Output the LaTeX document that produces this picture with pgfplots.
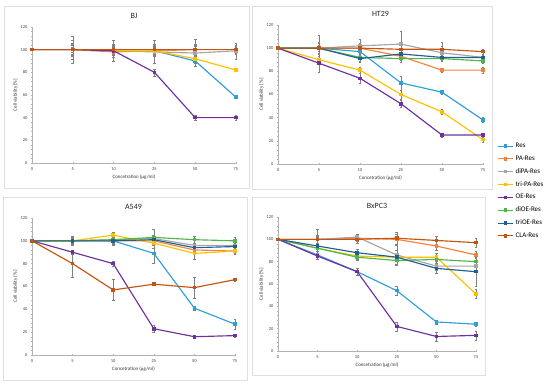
\documentclass[border=0pt]{standalone}
\usepackage{pgfplots}
\pgfplotsset{compat=1.18}
\usepackage{fontspec}
\setmainfont{Carlito}
\definecolor{cRes}{HTML}{2E9FD8}
\definecolor{cPA}{HTML}{F5823A}
\definecolor{cdiPA}{HTML}{A5A5A5}
\definecolor{ctri}{HTML}{FFC000}
\definecolor{cOE}{HTML}{7030A0}
\definecolor{cdiOE}{HTML}{4EB548}
\definecolor{ctriOE}{HTML}{1F5F91}
\definecolor{cCLA}{HTML}{C4540F}
\definecolor{cErr}{HTML}{808080}
\pgfplotsset{
  panel/.style={
    scale only axis,
    xmin=0, xmax=5, ymin=0, ymax=120,
    xtick={0,1,2,3,4,5}, xticklabels={0,5,10,25,50,75},
    ytick={0,20,40,60,80,100,120},
    minor y tick num=4,
    axis x line=bottom, axis y line=left,
    axis line style={gray!60, -, line width=0.5pt},
    tick style={gray!60, line width=0.4pt},
    major tick length=2pt, minor tick length=1.2pt,
    tick align=center,
    tick label style={font=\fontsize{4.5}{5}\selectfont, text=black!75},
    /pgf/number format/assume math mode=true,
    xlabel={Concetration (µg/ml)},
    ylabel={Cell viability [\%]},
    label style={font=\fontsize{5}{6}\selectfont, text=black!80},
    xlabel style={yshift=3pt},
    ylabel style={yshift=-4pt},
    title style={font=\fontsize{8}{9}\selectfont, text=black!85, yshift=-1pt},
    every axis plot/.append style={line width=1.15pt, mark=square*, mark size=1.2pt,
      error bars/y dir=both, error bars/y explicit,
      error bars/error bar style={cErr, line width=0.35pt},
      error bars/error mark options={rotate=90, mark size=1.4pt, cErr, line width=0.35pt}},
    clip=false,
  },
}
\begin{document}
\begin{tikzpicture}[x=1pt,y=1pt]
\path[use as bounding box] (0,0) rectangle (550,385);
% panel frames
\draw[gray!25, line width=0.6pt] (4,197) rectangle (249,379);
\draw[gray!25, line width=0.6pt] (252,196) rectangle (492,379);
\draw[gray!25, line width=0.6pt] (3,5) rectangle (247,188);
\draw[gray!25, line width=0.6pt] (252,10) rectangle (485,188);

% BJ
\begin{axis}[panel, at={(32pt,222pt)}, anchor=south west, width=204pt, height=136pt, title={BJ}]
\addplot[color=cRes, mark options={fill=cRes}] coordinates {(0,100)+-(0,0) (1,100)+-(0,4) (2,100)+-(0,3) (3,99)+-(0,3) (4,90)+-(0,2) (5,58)+-(0,1)};
\addplot[color=cPA, mark options={fill=cPA}] coordinates {(0,100)+-(0,0) (1,100)+-(0,6) (2,98)+-(0,5) (3,99)+-(0,4) (4,100)+-(0,5) (5,100)+-(0,4)};
\addplot[color=cdiPA, mark options={fill=cdiPA}] coordinates {(0,100)+-(0,0) (1,100)+-(0,12) (2,99)+-(0,9) (3,98)+-(0,10) (4,97)+-(0,12) (5,99)+-(0,7)};
\addplot[color=ctri, mark options={fill=ctri}] coordinates {(0,100)+-(0,0) (1,100)+-(0,4) (2,99)+-(0,3) (3,99)+-(0,5) (4,92)+-(0,2) (5,82)+-(0,1)};
\addplot[color=cOE, mark options={fill=cOE}] coordinates {(0,100)+-(0,0) (1,100)+-(0,2) (2,99)+-(0,3) (3,80)+-(0,3) (4,40)+-(0,2) (5,40)+-(0,2)};
\addplot[color=cdiOE, mark options={fill=cdiOE}] coordinates {(0,100)+-(0,0) (1,100)+-(0,8) (2,100)+-(0,5) (3,100)+-(0,5) (4,100)+-(0,4) (5,100)+-(0,3)};
\addplot[color=ctriOE, mark options={fill=ctriOE}] coordinates {(0,100)+-(0,0) (1,100)+-(0,6) (2,100)+-(0,4) (3,100)+-(0,4) (4,100)+-(0,3) (5,100)+-(0,3)};
\addplot[color=cCLA, mark options={fill=cCLA}] coordinates {(0,100)+-(0,0) (1,100)+-(0,5) (2,100)+-(0,3) (3,100)+-(0,3) (4,100)+-(0,3) (5,100)+-(0,2)};
\end{axis}

% HT29
\begin{axis}[panel, at={(278pt,221pt)}, anchor=south west, width=205pt, height=139pt, title={HT29},
  legend style={at={(axis description cs:1.07,0.165)}, anchor=north west, draw=none, fill=none,
    font=\fontsize{7}{8}\selectfont, row sep=2.6pt, inner sep=0pt},
  legend cell align=left,
  legend image code/.code={\draw[#1, line width=1.1pt] (0pt,0pt) -- (15pt,0pt); \draw[#1, mark size=1.2pt] plot coordinates {(7.5pt,0pt)};}]
\addplot[color=cRes, mark options={fill=cRes}] coordinates {(0,100)+-(0,0) (1,100)+-(0,3) (2,97)+-(0,3) (3,70)+-(0,6) (4,62)+-(0,2) (5,38)+-(0,2)};
\addplot[color=cPA, mark options={fill=cPA}] coordinates {(0,100)+-(0,0) (1,100)+-(0,4) (2,100)+-(0,4) (3,93)+-(0,3) (4,81)+-(0,2) (5,81)+-(0,3)};
\addplot[color=cdiPA, mark options={fill=cdiPA}] coordinates {(0,100)+-(0,0) (1,100)+-(0,11) (2,102)+-(0,6) (3,103.5)+-(0,11) (4,96)+-(0,6) (5,92)+-(0,3)};
\addplot[color=ctri, mark options={fill=ctri}] coordinates {(0,100)+-(0,0) (1,90)+-(0,3) (2,81)+-(0,3) (3,60)+-(0,4) (4,45)+-(0,2) (5,21)+-(0,2)};
\addplot[color=cOE, mark options={fill=cOE}] coordinates {(0,100)+-(0,0) (1,87)+-(0,8) (2,74)+-(0,4) (3,52)+-(0,3) (4,25)+-(0,2) (5,25)+-(0,2)};
\addplot[color=cdiOE, mark options={fill=cdiOE}] coordinates {(0,100)+-(0,0) (1,100)+-(0,4) (2,92)+-(0,3) (3,91)+-(0,3) (4,91)+-(0,2) (5,89)+-(0,2)};
\addplot[color=ctriOE, mark options={fill=ctriOE}] coordinates {(0,100)+-(0,0) (1,100)+-(0,5) (2,91)+-(0,3) (3,95)+-(0,4) (4,92)+-(0,2) (5,92)+-(0,2)};
\addplot[color=cCLA, mark options={fill=cCLA}] coordinates {(0,100)+-(0,0) (1,100)+-(0,3) (2,100)+-(0,4) (3,99)+-(0,4) (4,99)+-(0,6) (5,97)+-(0,2)};
\legend{Res,PA-Res,diPA-Res,tri-PA-Res,OE-Res,diOE-Res,triOE-Res,CLA-Res}
\end{axis}

% A549
\begin{axis}[panel, at={(32pt,30pt)}, anchor=south west, width=203pt, height=137pt, title={A549}]
\addplot[color=cRes, mark options={fill=cRes}] coordinates {(0,100)+-(0,0) (1,100)+-(0,3) (2,100)+-(0,2) (3,89)+-(0,9) (4,41)+-(0,2) (5,27)+-(0,4)};
\addplot[color=cPA, mark options={fill=cPA}] coordinates {(0,100)+-(0,0) (1,100)+-(0,2) (2,100)+-(0,2) (3,100)+-(0,3) (4,92)+-(0,4) (5,91)+-(0,3)};
\addplot[color=cdiPA, mark options={fill=cdiPA}] coordinates {(0,100)+-(0,0) (1,100)+-(0,4) (2,101)+-(0,5) (3,102)+-(0,8) (4,96)+-(0,5) (5,96)+-(0,7)};
\addplot[color=ctri, mark options={fill=ctri}] coordinates {(0,100)+-(0,0) (1,100)+-(0,2) (2,105)+-(0,3) (3,98)+-(0,4) (4,89)+-(0,5) (5,91)+-(0,3)};
\addplot[color=cOE, mark options={fill=cOE}] coordinates {(0,100)+-(0,0) (1,90)+-(0,2) (2,80)+-(0,2) (3,23)+-(0,3) (4,16)+-(0,1) (5,17)+-(0,1)};
\addplot[color=cdiOE, mark options={fill=cdiOE}] coordinates {(0,100)+-(0,0) (1,100)+-(0,3) (2,101)+-(0,4) (3,103)+-(0,7) (4,101)+-(0,3) (5,100)+-(0,3)};
\addplot[color=ctriOE, mark options={fill=ctriOE}] coordinates {(0,100)+-(0,0) (1,100)+-(0,3) (2,100)+-(0,3) (3,101)+-(0,4) (4,94)+-(0,3) (5,95)+-(0,3)};
\addplot[color=cCLA, mark options={fill=cCLA}] coordinates {(0,100)+-(0,0) (1,80)+-(0,12) (2,57)+-(0,9) (3,62)+-(0,1) (4,59)+-(0,9) (5,66)+-(0,1)};
\end{axis}

% BxPC3
\begin{axis}[panel, at={(278pt,34pt)}, anchor=south west, width=198pt, height=134pt, title={BxPC3}]
\addplot[color=cRes, mark options={fill=cRes}] coordinates {(0,100)+-(0,0) (1,86)+-(0,2) (2,71)+-(0,3) (3,54)+-(0,4) (4,26)+-(0,2) (5,24)+-(0,2)};
\addplot[color=cPA, mark options={fill=cPA}] coordinates {(0,100)+-(0,0) (1,100)+-(0,4) (2,101)+-(0,3) (3,100)+-(0,5) (4,94)+-(0,4) (5,86)+-(0,3)};
\addplot[color=cdiPA, mark options={fill=cdiPA}] coordinates {(0,100)+-(0,0) (1,100)+-(0,9) (2,102)+-(0,3) (3,86)+-(0,9) (4,76)+-(0,6) (5,76)+-(0,4)};
\addplot[color=ctri, mark options={fill=ctri}] coordinates {(0,100)+-(0,0) (1,92)+-(0,4) (2,85)+-(0,3) (3,84)+-(0,4) (4,84)+-(0,4) (5,51)+-(0,4)};
\addplot[color=cOE, mark options={fill=cOE}] coordinates {(0,100)+-(0,0) (1,85)+-(0,3) (2,71)+-(0,3) (3,22)+-(0,4) (4,13)+-(0,4) (5,14)+-(0,4)};
\addplot[color=cdiOE, mark options={fill=cdiOE}] coordinates {(0,100)+-(0,0) (1,92)+-(0,3) (2,84)+-(0,3) (3,81)+-(0,4) (4,82)+-(0,3) (5,80)+-(0,3)};
\addplot[color=ctriOE, mark options={fill=ctriOE}] coordinates {(0,100)+-(0,0) (1,94)+-(0,8) (2,88)+-(0,3) (3,84)+-(0,6) (4,74)+-(0,2) (5,71)+-(0,13)};
\addplot[color=cCLA, mark options={fill=cCLA}] coordinates {(0,100)+-(0,0) (1,100)+-(0,3) (2,100)+-(0,3) (3,101)+-(0,5) (4,99)+-(0,4) (5,97)+-(0,4)};
\end{axis}
\end{tikzpicture}
\end{document}
